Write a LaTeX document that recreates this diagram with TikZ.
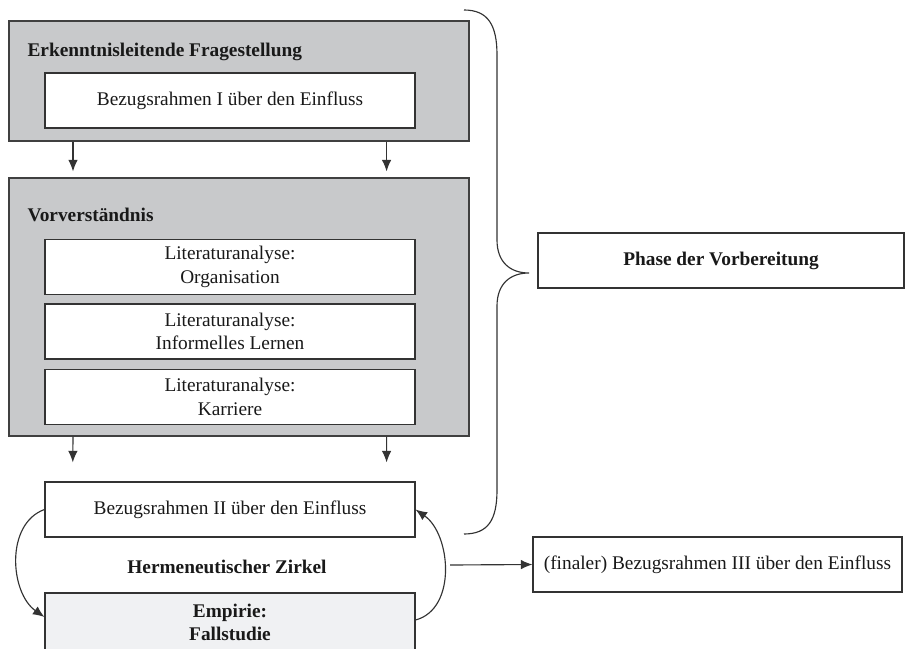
\documentclass[tikz,border=0pt]{standalone}
\usepackage{fontspec}
\setmainfont{Liberation Serif}
\usepackage{tikz}
\usetikzlibrary{arrows.meta, calc}

\definecolor{grau}{RGB}{200,201,203}
\definecolor{hellgrau}{RGB}{240,241,243}

\begin{document}
\begin{tikzpicture}[
  >={Latex[length=2.3mm, width=1.9mm]}, line width=0.65pt,
  font=\fontsize{11}{13.5}\selectfont, text=black!90, draw=black!80,
  rahmen/.style={draw=black!75, fill=grau, minimum width=9.2cm},
  kasten/.style={draw=black!80, fill=white, align=center,
                 minimum width=7.4cm, minimum height=1.1cm, inner sep=2pt},
  titel/.style={anchor=base west, inner sep=0pt, font=\fontsize{11}{13.5}\selectfont\bfseries}]

  \useasboundingbox (0,0) rectangle (18.1,-12.96);

  % Vorbereitung
  \node[rahmen, minimum height=2.4cm] (frage) at (4.78,-1.62) {};
  \node[titel] (fragetitel) at (0.54,-1.12) {Erkenntnisleitende Fragestellung};
  \node[kasten] (bez1) at (4.6,-2.01) {Bezugsrahmen I über den Einfluss};

  \node[rahmen, minimum height=5.16cm] (vor) at (4.78,-6.14) {};
  \node[titel] (vortitel) at (0.54,-4.42) {Vorverständnis};
  \node[kasten] (lit1) at (4.6,-5.34) {Literaturanalyse:\\Organisation};
  \node[kasten] (lit2) at (4.6,-6.63) {Literaturanalyse:\\Informelles Lernen};
  \node[kasten] (lit3) at (4.6,-7.94) {Literaturanalyse:\\Karriere};

  % Zirkel
  \node[kasten] (bez2) at (4.6,-10.19) {Bezugsrahmen II über den Einfluss};
  \node[font=\fontsize{11}{13.5}\selectfont\bfseries] (zirkel) at (4.54,-11.34)
    {Hermeneutischer Zirkel};
  \node[kasten, fill=hellgrau, minimum height=1.18cm,
        font=\fontsize{11}{13.5}\selectfont\bfseries] (empirie) at (4.6,-12.45)
    {Empirie:\\Fallstudie};

  \node[kasten, minimum width=7.32cm] (phase) at (14.42,-5.21)
    {\bfseries Phase der Vorbereitung};
  \node[kasten, minimum width=7.38cm] (final) at (14.35,-11.29)
    {(finaler) Bezugsrahmen III über den Einfluss};
  \coordinate (aus) at (9.0,-11.3);

  \foreach \f/\g in {0.14/0.076, 0.82/0.922}{
    \draw[->, shorten >=1.2mm]
      ($(frage.south west)!\f!(frage.south east)$) --
      ($(vor.north west)!\f!(vor.north east)$);
    \draw[->, shorten >=3.8mm]
      ($(vor.south west)!\f!(vor.south east)$) --
      ($(bez2.north west)!\g!(bez2.north east)$);
  }

  \draw[->] (bez2.west) to[out=200, in=145] ([yshift=0.11cm]empirie.west);
  \draw[->] ([yshift=0.05cm]empirie.east) to[out=15, in=-35] (bez2.east);
  \draw[->] (aus) -- (final.west);

  % Klammer
  \draw (9.28,-0.2) .. controls (9.76,-0.2) and (9.94,-0.5) .. (9.94,-1.1)
    -- (9.94,-4.8) .. controls (9.94,-5.24) and (10.2,-5.46) .. (10.58,-5.46)
    .. controls (10.2,-5.46) and (9.94,-5.68) .. (9.94,-6.12)
    -- (9.94,-9.8) .. controls (9.94,-10.4) and (9.76,-10.68) .. (9.28,-10.68);
\end{tikzpicture}
\end{document}
